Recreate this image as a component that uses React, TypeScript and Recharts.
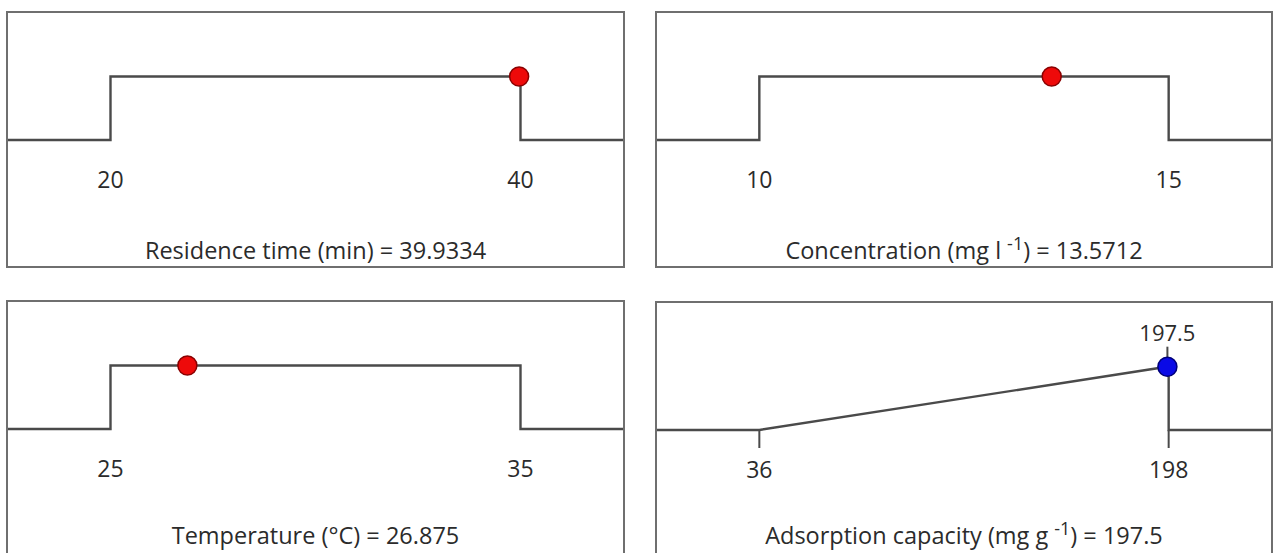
import { ComposedChart, Line, Scatter, XAxis, YAxis } from "recharts"

// factor / response settings
const labelPre = ["Residence time (min)", "Concentration (mg l", "Temperature (°C)", "Adsorption capacity (mg g"]
const labelSup = ["", "-1", "", "-1"]
const labelPost = ["", ")", "", ")"]
const lowLimits = [20, 10, 25, 36]
const highLimits = [40, 15, 35, 198]
const optimum = [39.9334, 13.5712, 26.875, 197.5]
const optimumText = ["39.9334", "13.5712", "26.875", "197.5"]
const desirability = [1, 1, 1, 0.997]
const axisMin = [15, 8.75, 22.5, -4.5]
const axisMax = [45, 16.25, 37.5, 238.5]
const isResponse = [false, false, false, true]

const FONT = "'Open Sans', 'Noto Sans', sans-serif"
const LINE = "#4a4a4a"
const TEXT = "#2b2b2b"

const boxes = [
  { left: 6, top: 11, width: 619, titleY: 119 },
  { left: 655, top: 11, width: 618, titleY: 119 },
  { left: 6, top: 300, width: 619, titleY: 115 },
  { left: 655, top: 301, width: 618, titleY: 114 },
]
const BOX_H = 257
const PLOT_H = 127

function profile(i: number) {
  const lo = lowLimits[i]
  const hi = highLimits[i]
  if (isResponse[i]) {
    return [
      { x: axisMin[i], y: 0 },
      { x: lo, y: 0 },
      { x: hi, y: 1 },
      { x: hi, y: 0 },
      { x: axisMax[i], y: 0 },
    ]
  }
  return [
    { x: axisMin[i], y: 0 },
    { x: lo, y: 0 },
    { x: lo, y: 1 },
    { x: hi, y: 1 },
    { x: hi, y: 0 },
    { x: axisMax[i], y: 0 },
  ]
}

function Panel({ i }: { i: number }) {
  const b = boxes[i]
  const w = b.width - 4
  const h = BOX_H - 4
  const resp = isResponse[i]

  const title = (props: any) => {
    const vb = props.viewBox || {}
    const cx = vb.x + vb.width / 2
    const y = vb.y + b.titleY
    return (
      <text x={cx} y={y} textAnchor="middle" fontFamily={FONT} fontSize={23.5} fill={TEXT}>
        <tspan>{labelPre[i]}</tspan>
        {labelSup[i] && (
          <tspan dx={6} dy={-9} fontSize={18}>{labelSup[i]}</tspan>
        )}
        {labelSup[i] && <tspan dy={9}>{labelPost[i]}</tspan>}
        <tspan>{" = " + optimumText[i]}</tspan>
      </text>
    )
  }

  const marker = (props: any) => {
    const { cx, cy } = props
    const fill = resp ? "#0a0ae6" : "#ee0a0a"
    const stroke = resp ? "#00007a" : "#8a0000"
    return (
      <g>
        {resp && <line x1={cx} x2={cx} y1={cy - 20} y2={cy} stroke={LINE} strokeWidth={2} />}
        {resp && (
          <text x={cx} y={cy - 26} textAnchor="middle" fontFamily={FONT} fontSize={22} fill={TEXT}>
            {optimumText[i]}
          </text>
        )}
        <circle cx={cx} cy={cy} r={9.5} fill={fill} stroke={stroke} strokeWidth={1.5} />
      </g>
    )
  }

  return (
    <div
      style={{
        position: "absolute",
        left: b.left,
        top: b.top,
        width: b.width,
        height: BOX_H,
        border: "2px solid #6f6f6f",
        boxSizing: "border-box",
        background: "#fff",
      }}
    >
      <ComposedChart width={w} height={h} margin={{ top: 0, right: 0, bottom: 0, left: 0 }}>
        <XAxis
          type="number"
          dataKey="x"
          domain={[axisMin[i], axisMax[i]]}
          ticks={[lowLimits[i], highLimits[i]]}
          axisLine={false}
          tickLine={resp ? { stroke: LINE, strokeWidth: 2 } : false}
          tickSize={18}
          tickMargin={14}
          height={h - PLOT_H}
          tick={{ fontFamily: FONT, fontSize: 23, fill: TEXT }}
          label={title}
        />
        <YAxis type="number" dataKey="y" domain={[0, 2]} hide />
        <Line
          data={profile(i)}
          dataKey="y"
          type="linear"
          stroke={LINE}
          strokeWidth={2.4}
          dot={false}
          activeDot={false}
          isAnimationActive={false}
        />
        <Scatter
          data={[{ x: optimum[i], y: desirability[i] }]}
          dataKey="y"
          shape={marker}
          isAnimationActive={false}
        />
      </ComposedChart>
    </div>
  )
}

export default function App() {
  return (
    <div
      style={{
        position: "absolute",
        left: 0,
        top: 0,
        width: 1275,
        height: 553,
        overflow: "hidden",
        background: "#fff",
      }}
    >
      {[0, 1, 2, 3].map((i) => (
        <Panel key={i} i={i} />
      ))}
    </div>
  )
}
